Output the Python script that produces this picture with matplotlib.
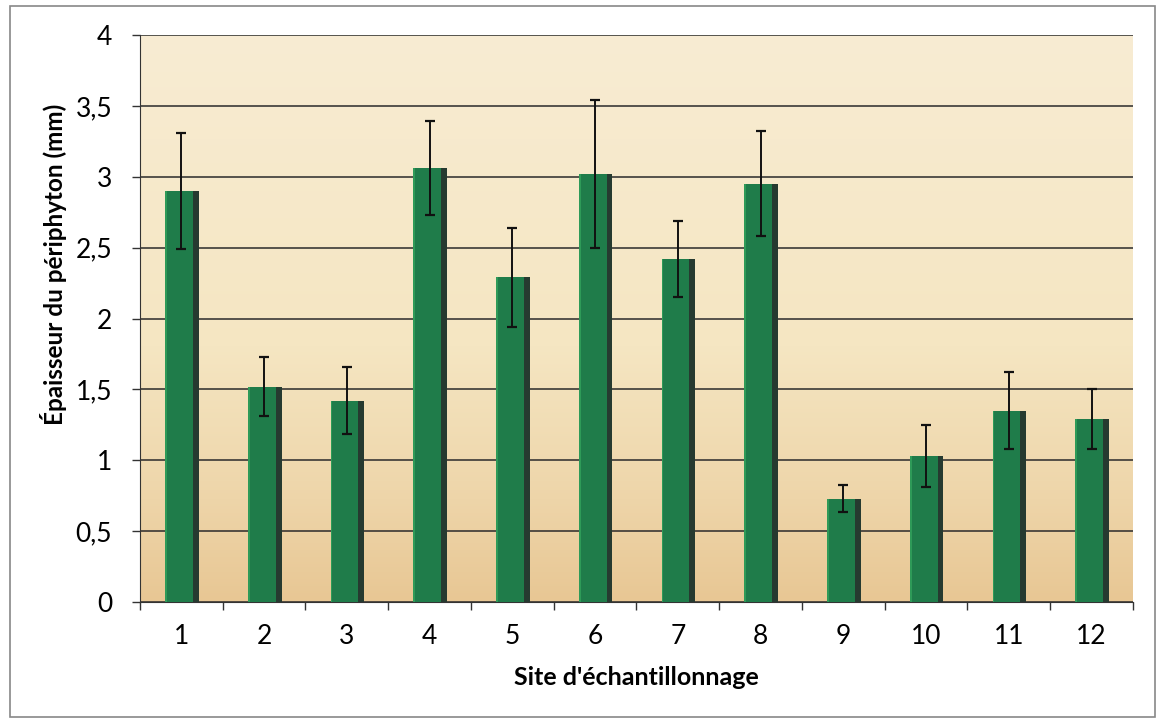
import numpy as np
import matplotlib
matplotlib.use("Agg")
import matplotlib.pyplot as plt
from matplotlib.colors import LinearSegmentedColormap
from matplotlib.patches import Rectangle

sites = ["1", "2", "3", "4", "5", "6", "7", "8", "9", "10", "11", "12"]
epaisseur = [2.90, 1.52, 1.42, 3.06, 2.29, 3.02, 2.42, 2.95, 0.73, 1.03, 1.35, 1.29]
erreur = [0.41, 0.21, 0.237, 0.33, 0.35, 0.52, 0.265, 0.37, 0.095, 0.22, 0.27, 0.21]
yticks = [0, 0.5, 1, 1.5, 2, 2.5, 3, 3.5, 4]
ytick_labels = ["0", "0,5", "1", "1,5", "2", "2,5", "3", "3,5", "4"]

plt.rcParams['font.family'] = ['Lato', 'DejaVu Sans']

fig = plt.figure(figsize=(11.58, 7.21), dpi=100)
fig.patch.set_facecolor("white")
ax = fig.add_axes([0.1209, 0.165, 0.8575, 0.7865])

# gradient background
cmap = LinearSegmentedColormap.from_list(
    "bg", [(0.0, "#e8c794"), (0.18, "#eed5a9"), (0.45, "#f5e6c2"), (1.0, "#f8ecd3")])
grad = np.linspace(0, 1, 256).reshape(-1, 1)
ax.imshow(grad, aspect="auto", cmap=cmap, origin="lower",
          extent=[0, 1, 0, 1], transform=ax.transAxes, zorder=0)

x = np.arange(1, len(sites) + 1)
# dark shadow bar, then green bar
ax.bar(x + 0.01, epaisseur, 0.40, color="#263a30", zorder=2)
ax.bar(x - 0.025, epaisseur, 0.33, color="#1f7c4a", zorder=3)
ax.bar(x - 0.185, epaisseur, 0.02, color="#2e9a58", zorder=3)
ax.errorbar(x, epaisseur, yerr=erreur, fmt="none", ecolor="#111111",
            elinewidth=1.4, capsize=3.8, capthick=1.6, zorder=4)

ax.set_xlim(0.5, 12.5)
ax.set_ylim(0, 4)
ax.set_yticks(yticks)
ax.set_yticklabels(ytick_labels, fontsize=19)
ax.set_xticks(x)
ax.set_xticklabels(sites, fontsize=19)
ax.set_xticks(np.arange(0.5, 12.6, 1), minor=True)
ax.tick_params(axis="x", which="major", length=0, pad=16)
ax.tick_params(axis="x", which="minor", length=6, width=1, color="#333333")
ax.tick_params(axis="y", length=6, width=1, color="#333333", pad=14)

ax.yaxis.grid(True, color="#2a2a2a", linewidth=1.1, zorder=1)
ax.set_axisbelow(True)
for s in ["top", "right"]:
    ax.spines[s].set_visible(False)
ax.spines["left"].set_color("#333333")
ax.spines["bottom"].set_color("#333333")

ax.set_xlabel("Site d'échantillonnage", fontsize=18, fontweight="bold", labelpad=12)
ax.set_ylabel("Épaisseur du périphyton (mm)", fontsize=17.5, fontweight="bold")
ax.yaxis.set_label_coords(-0.0735, 0.596)

# outer border
fig.patches.append(Rectangle((0.009, 0.005), 0.988, 0.986, transform=fig.transFigure,
                             fill=False, edgecolor="#888888", linewidth=1.2))

fig.savefig("out.png", dpi=100)
